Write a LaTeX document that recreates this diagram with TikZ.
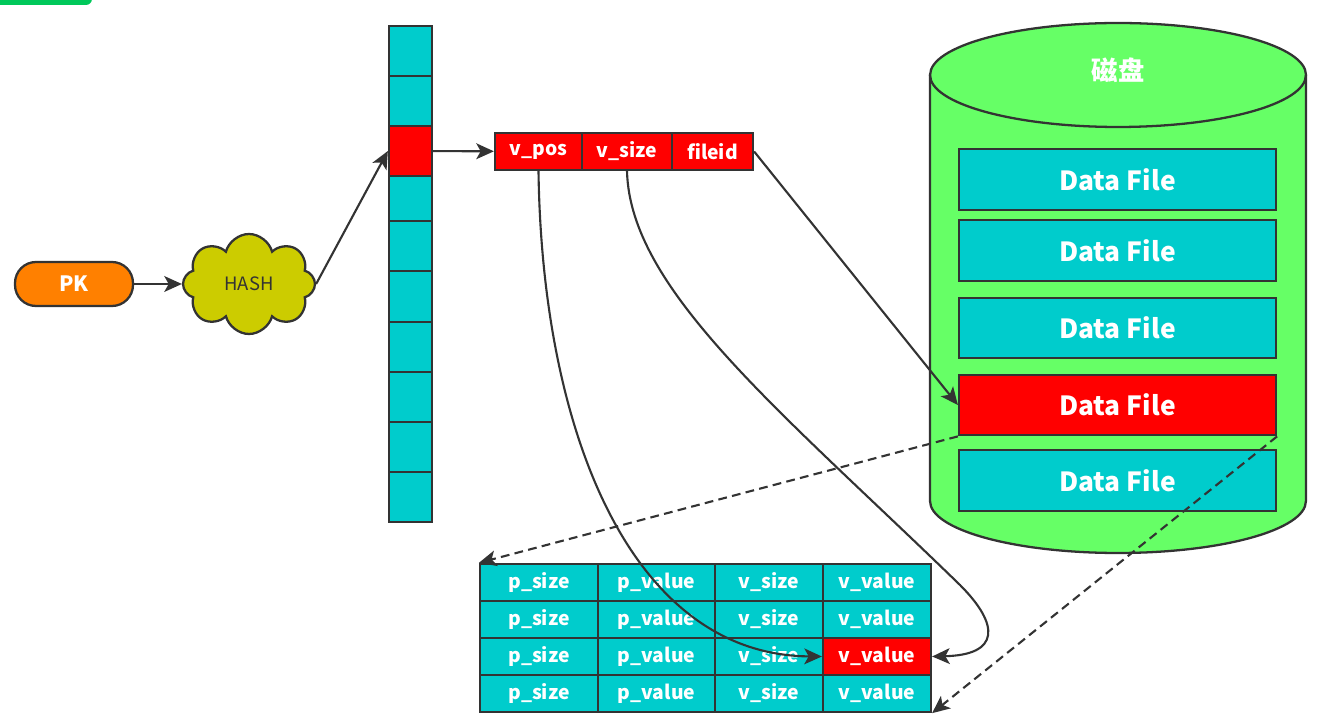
\documentclass[tikz,border=0pt]{standalone}
\usepackage{fontspec}
\setmainfont{Noto Sans CJK SC}
\usetikzlibrary{shapes.symbols,arrows.meta}

\definecolor{cellteal}{HTML}{00CCCC}
\definecolor{cellred}{HTML}{FF0000}
\definecolor{pkorange}{HTML}{FF8000}
\definecolor{hashyellow}{HTML}{CCCC00}
\definecolor{diskgreen}{HTML}{66FF66}
\definecolor{linegray}{HTML}{333333}
\definecolor{tabgreen}{HTML}{00C85A}

\tikzset{
	cell/.style  = {rectangle, draw=linegray, line width=1.3pt, minimum width=0.86cm, inner sep=0pt},
	field/.style = {rectangle, draw=linegray, line width=1.3pt, fill=cellred, minimum height=0.74cm, inner sep=0pt, text=white, font=\bfseries\fontsize{11}{13}\selectfont},
	tcell/.style = {rectangle, draw=linegray, line width=1.3pt, minimum height=0.74cm, inner sep=0pt, text=white, font=\bfseries\fontsize{11}{13}\selectfont},
	dfile/.style = {rectangle, draw=linegray, line width=1.3pt, minimum width=6.34cm, minimum height=1.21cm, inner sep=0pt, text=white, font=\bfseries\fontsize{15}{18}\selectfont},
	conn/.style  = {draw=linegray, line width=1.2pt, -{Stealth[length=10pt, width=9pt, inset=2.5pt]}}
}

\begin{document}
\begin{tikzpicture}[x=0.02cm, y=-0.02cm]
	\useasboundingbox (0,0) rectangle (1322,722);
	\fill[tabgreen, rounded corners=0.12cm] (-60,-40) rectangle (92,5);

	% key and hash
	\node (pk) at (74,284)	[rectangle, rounded corners=0.42cm, draw=linegray, line width=1.3pt, fill=pkorange, minimum width=2.36cm, minimum height=0.88cm, text=white, font=\bfseries\fontsize{12}{14}\selectfont]	{PK};
	\node (hash) at (249,284)	[cloud, cloud puffs=8, aspect=1.3, draw=linegray, line width=1.3pt, fill=hashyellow, minimum width=2.64cm, minimum height=2.0cm, inner sep=0pt, text=linegray, font=\fontsize{10.5}{12}\selectfont]	{HASH};

	% hash array
	\foreach \i/\ytop/\ybot/\c in {1/26/76/cellteal, 2/76/126/cellteal, 3/126/176/cellred, 4/176/221/cellteal, 5/221/271/cellteal, 6/271/322/cellteal, 7/322/372/cellteal, 8/372/422/cellteal, 9/422/472/cellteal, 10/472/522/cellteal}
		\node (c\i) at (410.5,{(\ytop+\ybot)/2})	[cell, fill=\c, minimum height={(\ybot-\ytop)*0.02cm}]	{};

	% index entry
	\node (vpos) at (538.5,151.5)	[field, minimum width=1.74cm]	{v\_pos};
	\node (vsize) at (627,151.5)	[field, minimum width=1.80cm]	{v\_size};
	\node (fileid) at (712.5,151.5)	[field, minimum width=1.62cm]	{fileid};

	% disk
	\draw[draw=linegray, line width=1.3pt, fill=diskgreen] (930,75) -- (930,501) arc[start angle=180, end angle=360, x radius=3.76cm, y radius=1.04cm] -- (1306,75) arc[start angle=0, end angle=180, x radius=3.76cm, y radius=1.04cm] -- cycle;
	\draw[draw=linegray, line width=1.3pt] (930,75) arc[start angle=180, end angle=360, x radius=3.76cm, y radius=1.04cm];
	\node (disk) at (1118,70)	[text=white, font=\bfseries\fontsize{15}{18}\selectfont]	{磁盘};
	\node (df1) at (1117.5,179.5)	[dfile, fill=cellteal]	{Data File};
	\node (df2) at (1117.5,250.5)	[dfile, fill=cellteal]	{Data File};
	\node (df3) at (1117.5,328)	[dfile, fill=cellteal]	{Data File};
	\node (df4) at (1117.5,405)	[dfile, fill=cellred]	{Data File};
	\node (df5) at (1117.5,480.5)	[dfile, fill=cellteal]	{Data File};

	% data file records
	\foreach \r/\y/\c in {1/582.5/cellteal, 2/619.5/cellteal, 3/656.5/cellred, 4/693.5/cellteal} {
		\node (t\r1) at (539,\y)	[tcell, fill=cellteal, minimum width=2.36cm]	{p\_size};
		\node (t\r2) at (656.5,\y)	[tcell, fill=cellteal, minimum width=2.34cm]	{p\_value};
		\node (t\r3) at (769,\y)	[tcell, fill=cellteal, minimum width=2.16cm]	{v\_size};
		\node (t\r4) at (877,\y)	[tcell, fill=\c, minimum width=2.16cm]	{v\_value};
	}

	\draw[conn] (pk) -- (hash);
	\draw[conn] (hash.east) -- (c3.west);
	\draw[conn] (c3) -- (vpos);
	\draw[conn] (fileid.east) -- (df4.west);
	\draw[conn] (vpos.south) .. controls (542,430) and (630,655) .. (t34.west);
	\draw[conn] (vsize.south) .. controls (630,290) and (780,410) .. (960,585) .. controls (1000,625) and (1000,655) .. (t34.east);
	\draw[conn, dash pattern=on 5pt off 3pt] (df4.south west) -- (t11.north west);
	\draw[conn, dash pattern=on 5pt off 3pt] (df4.south east) -- (t44.south east);
\end{tikzpicture}
\end{document}
